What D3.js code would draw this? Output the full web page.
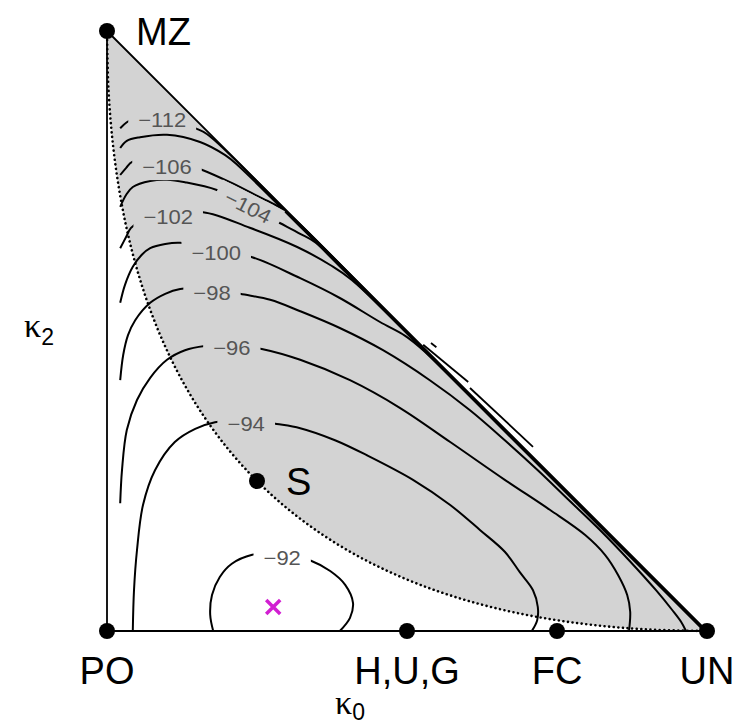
<!DOCTYPE html>
<html><head><meta charset="utf-8">
<script src="https://cdn.jsdelivr.net/npm/d3@7"></script>
<style>body{margin:0;background:#fff}</style>
</head><body>
<svg id="chart" width="740" height="726"></svg>
<script>
// ---- data (kappa0, kappa2) ----
const vertices = [
  {name:"PO", k0:0, k2:0}, {name:"MZ", k0:0, k2:1}, {name:"UN", k0:1, k2:0},
  {name:"H,U,G", k0:0.5, k2:0}, {name:"FC", k0:0.75, k2:0}, {name:"S", k0:0.25, k2:0.25}
];
const mle = [0.277, 0.040];
const boundary = [[0,1],[0.0025,0.9025],[0.01,0.81],[0.0225,0.7225],[0.04,0.64],[0.0625,0.5625],
  [0.09,0.49],[0.1225,0.4225],[0.16,0.36],[0.2025,0.3025],[0.25,0.25],[0.3025,0.2025],[0.36,0.16],
  [0.4225,0.1225],[0.49,0.09],[0.5625,0.0625],[0.64,0.04],[0.7225,0.0225],[0.81,0.01],[0.9025,0.0025],[1,0]];

const c92 = [[0.177,0],[0.172,0.027],[0.175,0.060],[0.188,0.090],[0.208,0.112],[0.242,0.127],[0.290,0.130],
  [0.340,0.117],[0.372,0.100],[0.397,0.077],[0.410,0.047],[0.405,0.022],[0.388,0]];
const c94 = [[0.043,0],[0.045,0.068],[0.050,0.135],[0.060,0.210],[0.080,0.268],[0.113,0.315],[0.147,0.337],
  [0.180,0.348],[0.232,0.352],[0.283,0.345],[0.322,0.338],[0.380,0.318],[0.433,0.293],[0.510,0.252],
  [0.572,0.210],[0.622,0.168],[0.663,0.132],[0.688,0.098],[0.710,0.068],[0.718,0.040],[0.717,0.018],[0.708,0]];
const c96 = [[0.022,0.213],[0.025,0.268],[0.033,0.335],[0.050,0.385],[0.072,0.422],[0.100,0.452],[0.130,0.468],
  [0.163,0.475],[0.208,0.477],[0.258,0.470],[0.322,0.452],[0.405,0.418],[0.488,0.372],[0.572,0.315],
  [0.663,0.252],[0.738,0.202],[0.797,0.160],[0.830,0.127],[0.852,0.093],[0.867,0.060],[0.872,0.032],[0.870,0]];
const c98 = [[0.022,0.418],[0.027,0.460],[0.035,0.493],[0.047,0.518],[0.072,0.547],[0.097,0.562],[0.122,0.570],
  [0.175,0.572],[0.222,0.562],[0.272,0.552],[0.322,0.533],[0.388,0.505],[0.460,0.468],[0.538,0.418],
  [0.605,0.368],[0.663,0.318],[0.718,0.268],[0.770,0.218],[0.822,0.168],[0.870,0.118],[0.915,0.068],
  [0.942,0.035],[0.957,0.015],[0.965,0]];
const c100 = [[0.022,0.547],[0.030,0.577],[0.043,0.607],[0.058,0.627],[0.072,0.638],[0.097,0.645],[0.122,0.647],
  [0.180,0.635],[0.242,0.623],[0.322,0.588],[0.388,0.555],[0.455,0.515],[0.497,0.492],[0.527,0.468],
  [0.700,0.297],[0.850,0.147],[0.997,0]];
const c102 = [[0.022,0.638],[0.032,0.657],[0.040,0.672],[0.055,0.682],[0.100,0.692],[0.160,0.698],[0.238,0.672],
  [0.317,0.640],[0.372,0.610],[0.408,0.585],[0.600,0.397],[0.800,0.197],[0.998,0]];
const c104 = [[0.022,0.707],[0.032,0.727],[0.043,0.740],[0.072,0.750],[0.100,0.752],[0.130,0.748],[0.183,0.735],
  [0.235,0.708],[0.288,0.680],[0.322,0.662],[0.348,0.647],[0.550,0.447],[0.800,0.197],[0.997,0]];
const c106 = [[0.022,0.760],[0.032,0.772],[0.042,0.782],[0.072,0.785],[0.100,0.783],[0.130,0.778],[0.160,0.768],
  [0.205,0.748],[0.247,0.727],[0.275,0.713],[0.297,0.700],[0.500,0.497],[0.800,0.197],[0.997,0]];
const c108 = [[0.022,0.805],[0.033,0.817],[0.055,0.823],[0.100,0.827],[0.155,0.815],[0.197,0.793],[0.217,0.777],
  [0.400,0.596],[0.700,0.296],[0.996,0]];
const c112 = [[0.022,0.838],[0.033,0.848],[0.047,0.855],[0.085,0.858],[0.125,0.848],[0.147,0.838],[0.167,0.828],
  [0.400,0.596],[0.700,0.296],[0.996,0]];
const contours = [c92, c94, c96, c98, c100, c102, c104, c106, c108, c112];
const strays = [
  [[0.527,0.477],[0.602,0.415]],
  [[0.605,0.405],[0.710,0.307]],
  [[0.540,0.480],[0.549,0.473]]
];
const labelText = ["\u221292","\u221294","\u221296","\u221298","\u2212100","\u2212102","\u2212104","\u2212106","\u2212112"];
const labelK0 = [0.292, 0.232, 0.208, 0.175, 0.182, 0.102, 0.235, 0.100, 0.092];
const labelK2 = [0.122, 0.345, 0.472, 0.563, 0.630, 0.690, 0.707, 0.773, 0.852];
const labelAngle = [0, 0, 0, 0, 0, 0, 27, 0, 0];

// ---- drawing ----
const svg = d3.select("#chart");
const x = d3.scaleLinear().domain([0,1]).range([107,707]);
const y = d3.scaleLinear().domain([0,1]).range([631,31]);
const line = d3.line().x(d=>x(d[0])).y(d=>y(d[1])).curve(d3.curveCatmullRom.alpha(0.5));
const straight = d3.line().x(d=>x(d[0])).y(d=>y(d[1]));
const FONT = "'Liberation Sans', Arial, Helvetica, sans-serif";

const defs = svg.append("defs");

// gray infeasible region
svg.append("path").attr("d", line(boundary) + "Z").attr("fill","#d3d3d3").attr("stroke","none");
// dotted boundary
svg.append("path").attr("d", line(boundary)).attr("fill","none").attr("stroke","#000")
  .attr("stroke-width",2.6).attr("stroke-linecap","round").attr("stroke-dasharray","0.01,4.6");

// labels (measured first for the mask)
const lab = svg.append("g").attr("class","labels");
const labelSel = lab.selectAll("text").data(labelText).join("text")
  .attr("transform",(d,i)=>`translate(${x(labelK0[i])},${y(labelK2[i])}) rotate(${labelAngle[i]}) scale(1.1,1)`)
  .attr("text-anchor","middle").attr("dominant-baseline","central")
  .attr("font-family",FONT).attr("font-size",20).attr("fill","#555")
  .text(d=>d);

const mask = defs.append("mask").attr("id","lblmask").attr("maskUnits","userSpaceOnUse")
  .attr("x",0).attr("y",0).attr("width",740).attr("height",726);
mask.append("rect").attr("x",0).attr("y",0).attr("width",740).attr("height",726).attr("fill","#fff");
labelSel.each(function(d,i){
  const bb = this.getBBox();
  const w = bb.width * 1.1 + 20, h = bb.height + 4;
  mask.append("rect")
    .attr("transform",`translate(${x(labelK0[i])},${y(labelK2[i])}) rotate(${labelAngle[i]})`)
    .attr("x",-w/2).attr("y",-h/2).attr("width",w).attr("height",h).attr("fill","#000");
});

// contour lines
svg.append("g").attr("mask","url(#lblmask)").selectAll("path").data(contours).join("path")
  .attr("d", d=>line(d)).attr("fill","none").attr("stroke","#000").attr("stroke-width",2);
svg.append("g").selectAll("path").data(strays).join("path")
  .attr("d", d=>straight(d)).attr("fill","none").attr("stroke","#000").attr("stroke-width",1.8);

// triangle edges
const tri = [[0,1],[0,0],[1,0],[0,1]];
svg.append("path").attr("d", straight(tri)).attr("fill","none").attr("stroke","#000").attr("stroke-width",1.8);

lab.raise();

// mle cross
const cx = x(mle[0]), cy = y(mle[1]), s = 7;
svg.append("path").attr("d",`M${cx-s},${cy-s}L${cx+s},${cy+s}M${cx-s},${cy+s}L${cx+s},${cy-s}`)
  .attr("stroke","#d21fd2").attr("stroke-width",3.5).attr("fill","none");

// vertex dots
svg.append("g").selectAll("circle").data(vertices).join("circle")
  .attr("cx",d=>x(d.k0)).attr("cy",d=>y(d.k2)).attr("r",8).attr("fill","#000");

// vertex names
const bottomNames = vertices.filter(d=>d.k2===0);
svg.append("g").selectAll("text").data(bottomNames).join("text")
  .attr("x",d=>x(d.k0)).attr("y",684).attr("text-anchor","middle")
  .attr("font-family",FONT).attr("font-size",38).attr("fill","#000").text(d=>d.name);
svg.append("text").attr("x",x(0)+29).attr("y",y(1)+14).attr("font-family",FONT)
  .attr("font-size",38).text("MZ");
svg.append("text").attr("x",x(0.25)+29).attr("y",y(0.25)+14).attr("font-family",FONT)
  .attr("font-size",38).text("S");

// axis titles
const kx = svg.append("text").attr("x",335).attr("y",714).attr("font-family","'Liberation Serif','DejaVu Serif',serif").attr("font-size",34);
kx.append("tspan").text("\u03ba");
kx.append("tspan").attr("font-family",FONT).attr("font-size",23).attr("dy",6).text("0");
const ky = svg.append("text").attr("x",24).attr("y",337).attr("font-family","'Liberation Serif','DejaVu Serif',serif").attr("font-size",34);
ky.append("tspan").text("\u03ba");
ky.append("tspan").attr("font-family",FONT).attr("font-size",23).attr("dy",8).text("2");
</script>
</body></html>
